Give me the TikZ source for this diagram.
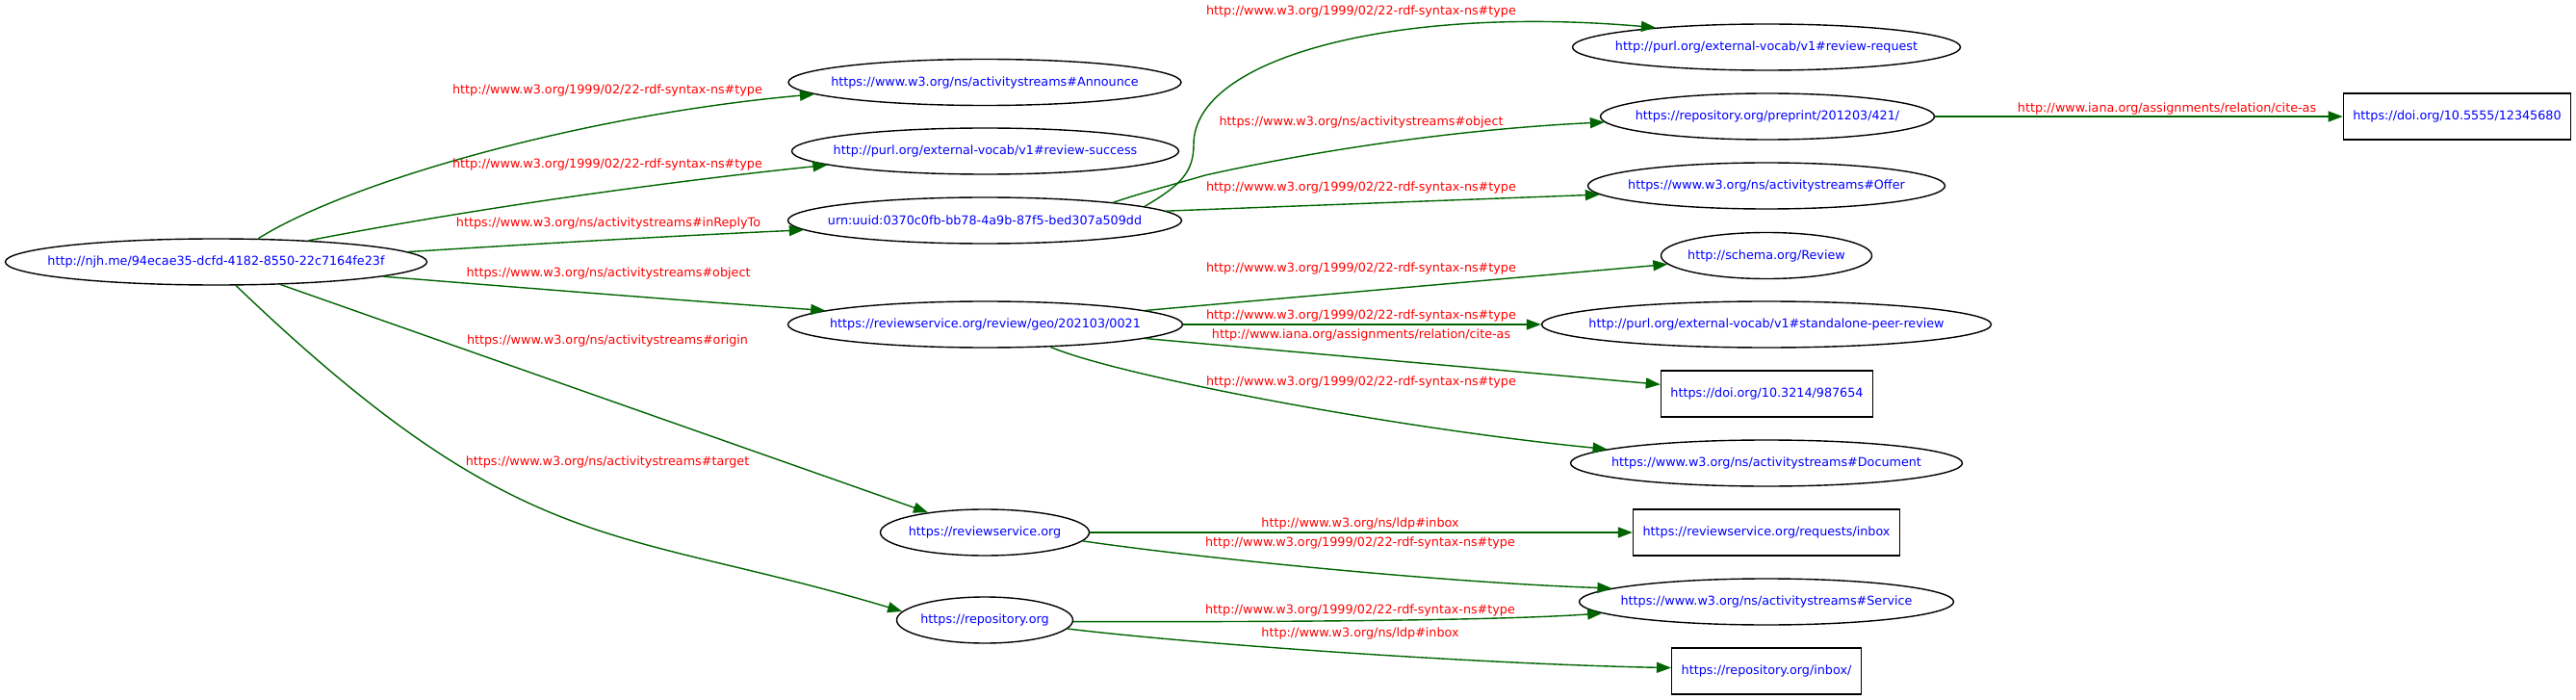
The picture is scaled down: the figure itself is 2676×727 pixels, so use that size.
\documentclass[tikz,border=0pt]{standalone}
\usepackage{fontspec}
\setmainfont{DejaVu Sans}
\usetikzlibrary{shapes.geometric,arrows.meta}
\definecolor{relgreen}{HTML}{006400}
\tikzset{
	res/.style={ellipse, draw, line width=1.4pt, minimum height=48pt, inner sep=0pt, text=blue,
		execute at begin node={\hbox to 0pt\bgroup\hss}, execute at end node={\hss\egroup}},
	lit/.style={rectangle, draw, line width=1.4pt, minimum height=48pt, inner xsep=10pt, inner ysep=0pt, text=blue},
	rel/.style={draw=relgreen, line width=1.4pt, -{Triangle[length=15pt,width=11pt]}},
	lbl/.style={text=red, inner sep=0pt}
}
\begin{document}
\begin{tikzpicture}[x=1pt, y=-1pt, font=\fontsize{12.75pt}{15pt}\selectfont]
				\useasboundingbox (0,0) rectangle (2676,727);
				
				\node[res, minimum width=438pt] (act) at (224.5,272) {http://njh.me/94ecae35-dcfd-4182-8550-22c7164fe23f};
				
				\node[res, minimum width=408pt] (annType) at (1023,85.5) {https://www.w3.org/ns/activitystreams\#Announce};
				\node[res, minimum width=402pt] (success) at (1023.5,157) {http://purl.org/external-vocab/v1\#review-success};
				\node[res, minimum width=409pt] (reply) at (1023,229) {urn:uuid:0370c0fb-bb78-4a9b-87f5-bed307a509dd};
				\node[res, minimum width=410pt] (review) at (1023.5,337) {https://reviewservice.org/review/geo/202103/0021};
				\node[res, minimum width=217pt] (origin) at (1023,553) {https://reviewservice.org};
				\node[res, minimum width=183pt] (target) at (1023,644) {https://repository.org};
				
				\node[res, minimum width=403pt] (reqType) at (1835,49) {http://purl.org/external-vocab/v1\#review-request};
				\node[res, minimum width=347pt] (preprint) at (1836,121) {https://repository.org/preprint/201203/421/};
				\node[lit] (preprintDoi) at (2552.5,121) {https://doi.org/10.5555/12345680};
				\node[res, minimum width=371pt] (offerType) at (1835,193) {https://www.w3.org/ns/activitystreams\#Offer};
				\node[res, minimum width=219pt] (schemaReview) at (1835,265.5) {http://schema.org/Review};
				\node[res, minimum width=467pt] (peerReview) at (1835,337) {http://purl.org/external-vocab/v1\#standalone-peer-review};
				\node[lit] (reviewDoi) at (1835.5,409) {https://doi.org/10.3214/987654};
				\node[res, minimum width=407pt] (docType) at (1835,481) {https://www.w3.org/ns/activitystreams\#Document};
				\node[lit] (rsInbox) at (1835,553) {https://reviewservice.org/requests/inbox};
				\node[res, minimum width=389pt] (serviceType) at (1835,625) {https://www.w3.org/ns/activitystreams\#Service};
				\node[lit] (repoInbox) at (1835,697) {https://repository.org/inbox/};
				
				\draw[rel] (act.29) .. controls (360,190) and (600,120) .. (annType.184);
				\draw[rel] (act.13) .. controls (500,215) and (700,188) .. (success.185);
				\draw[rel] (act.3) .. controls (560,253) and (700,245) .. (reply.183);
				\draw[rel] (act.355) .. controls (520,297) and (720,313) .. (review.175);
				\draw[rel] (act) -- (origin);
				\draw[rel] (act.310) .. controls (545,584) and (637,545) .. (target.174);
				
				\draw[rel] (reply.5) .. controls (1225,193) and (1240,180) .. (1240,150) .. controls (1240,60) and (1450,5) .. (reqType.170);
				\draw[rel] (reply.8) .. controls (1190,199) and (1225,190) .. (1252,182) .. controls (1350,160) and (1500,135) .. (preprint.182);
				\draw[rel] (reply.3) -- (offerType.183);
				\draw[rel] (preprint) -- (preprintDoi);
				
				\draw[rel] (review.5) -- (schemaReview.185);
				\draw[rel] (review) -- (peerReview);
				\draw[rel] (review.355) -- (reviewDoi.175);
				\draw[rel] (review.341) .. controls (1160,390) and (1450,445) .. (docType.175);
				
				\draw[rel] (origin) -- (rsInbox);
				\draw[rel] (origin.355) .. controls (1250,580) and (1500,605) .. (serviceType.175);
				\draw[rel] (target.359) .. controls (1300,646) and (1550,645) .. (serviceType.184);
				\draw[rel] (target.354) .. controls (1250,670) and (1550,690) .. (repoInbox.178);
				
				% predicate labels
				\node[lbl] (typeA) at (631,94) {http://www.w3.org/1999/02/22-rdf-syntax-ns\#type};
				\node[lbl] (typeB) at (631,171) {http://www.w3.org/1999/02/22-rdf-syntax-ns\#type};
				\node[lbl] (inReplyTo) at (632,232) {https://www.w3.org/ns/activitystreams\#inReplyTo};
				\node[lbl] (objectA) at (632,284) {https://www.w3.org/ns/activitystreams\#object};
				\node[lbl] (originL) at (631,354) {https://www.w3.org/ns/activitystreams\#origin};
				\node[lbl] (targetL) at (631,480) {https://www.w3.org/ns/activitystreams\#target};
				
				\node[lbl] (typeC) at (1414,12) {http://www.w3.org/1999/02/22-rdf-syntax-ns\#type};
				\node[lbl] (objectB) at (1414,127) {https://www.w3.org/ns/activitystreams\#object};
				\node[lbl] (typeD) at (1414,195) {http://www.w3.org/1999/02/22-rdf-syntax-ns\#type};
				\node[lbl] (citeA) at (2251,113) {http://www.iana.org/assignments/relation/cite-as};
				\node[lbl] (typeE) at (1414,279) {http://www.w3.org/1999/02/22-rdf-syntax-ns\#type};
				\node[lbl] (typeF) at (1414,328) {http://www.w3.org/1999/02/22-rdf-syntax-ns\#type};
				\node[lbl] (citeB) at (1414,348) {http://www.iana.org/assignments/relation/cite-as};
				\node[lbl] (typeG) at (1414,397) {http://www.w3.org/1999/02/22-rdf-syntax-ns\#type};
				\node[lbl] (inboxA) at (1413,544) {http://www.w3.org/ns/ldp\#inbox};
				\node[lbl] (typeH) at (1413,564) {http://www.w3.org/1999/02/22-rdf-syntax-ns\#type};
				\node[lbl] (typeI) at (1413,634) {http://www.w3.org/1999/02/22-rdf-syntax-ns\#type};
				\node[lbl] (inboxB) at (1413,658) {http://www.w3.org/ns/ldp\#inbox};
			\end{tikzpicture}
\end{document}
